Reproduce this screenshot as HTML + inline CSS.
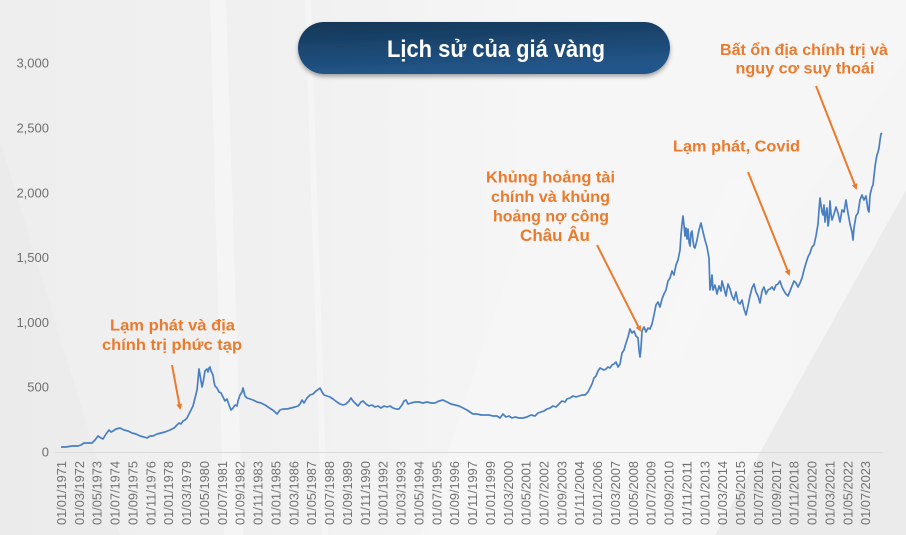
<!DOCTYPE html>
<html><head><meta charset="utf-8"><style>
html,body{margin:0;padding:0;background:#f3f3f3;}
svg{display:block;}
</style></head><body>
<svg width="906" height="535" viewBox="0 0 906 535" xmlns="http://www.w3.org/2000/svg">
<defs>
<linearGradient id="bg" x1="0" y1="0" x2="1" y2="0">
<stop offset="0" stop-color="#eeeeee"/><stop offset="0.35" stop-color="#f1f1f1"/><stop offset="0.6" stop-color="#f6f6f6"/><stop offset="1" stop-color="#f5f5f5"/>
</linearGradient>
<linearGradient id="pill" x1="0" y1="0" x2="0.3" y2="1">
<stop offset="0" stop-color="#143656"/><stop offset="1" stop-color="#22568a"/>
</linearGradient>
<filter id="sh" x="-10%" y="-30%" width="120%" height="170%">
<feDropShadow dx="0" dy="2.5" stdDeviation="2" flood-color="#000" flood-opacity="0.35"/>
</filter>
<marker id="ah" markerWidth="6" markerHeight="6" refX="4" refY="3" orient="auto" markerUnits="userSpaceOnUse">
<path d="M0,0 L6,3 L0,6 Z" fill="#ec7a2c"/>
</marker>
</defs>
<rect width="906" height="535" fill="url(#bg)"/>
<!-- background decorations -->
<polygon points="0,140 0,535 120,535" fill="#e9e9e9" opacity="0.6"/>
<polygon points="210,0 226,0 243,535 224,535" fill="#f9f9f9" opacity="0.55"/>
<polygon points="305,0 311,0 328,535 322,535" fill="#fafafa" opacity="0.45"/>
<polygon points="600,0 906,0 906,60 560,535 420,535" fill="#f7f7f7" opacity="0.6"/>
<polygon points="906,190 906,535 715,535 800,380" fill="#ebebeb"/>
<polygon points="730,180 760,180 680,360 650,360" fill="#f8f8f8" opacity="0.5"/>

<!-- title pill -->
<rect x="298" y="22" width="372" height="52" rx="26" ry="26" fill="url(#pill)" filter="url(#sh)"/>
<text x="387" y="57" font-family="Liberation Sans, Noto Sans CJK SC, sans-serif" font-size="24" font-weight="bold" fill="#ffffff" textLength="218" lengthAdjust="spacingAndGlyphs">Lịch sử của giá vàng</text>

<!-- y axis labels -->
<g font-family="Liberation Sans, sans-serif" font-size="13" fill="#6f6f6f" text-anchor="end">
<text x="49" y="456.5">0</text>
<text x="49" y="391.7">500</text>
<text x="49" y="326.9">1,000</text>
<text x="49" y="262.1">1,500</text>
<text x="49" y="197.3">2,000</text>
<text x="49" y="132.5">2,500</text>
<text x="49" y="67.7">3,000</text>
</g>

<!-- x axis -->
<line x1="55" y1="452.5" x2="883" y2="452.5" stroke="#d9d9d9" stroke-width="1"/>

<g font-family="Liberation Sans, sans-serif" font-size="13" fill="#727272" text-anchor="end">
<text transform="translate(66,461) rotate(-90)" textLength="64" lengthAdjust="spacingAndGlyphs">01/01/1971</text>
<text transform="translate(83.9,461) rotate(-90)" textLength="64" lengthAdjust="spacingAndGlyphs">01/03/1972</text>
<text transform="translate(101.7,461) rotate(-90)" textLength="64" lengthAdjust="spacingAndGlyphs">01/05/1973</text>
<text transform="translate(119.6,461) rotate(-90)" textLength="64" lengthAdjust="spacingAndGlyphs">01/07/1974</text>
<text transform="translate(137.5,461) rotate(-90)" textLength="64" lengthAdjust="spacingAndGlyphs">01/09/1975</text>
<text transform="translate(155.4,461) rotate(-90)" textLength="64" lengthAdjust="spacingAndGlyphs">01/11/1976</text>
<text transform="translate(173.2,461) rotate(-90)" textLength="64" lengthAdjust="spacingAndGlyphs">01/01/1978</text>
<text transform="translate(191.1,461) rotate(-90)" textLength="64" lengthAdjust="spacingAndGlyphs">01/03/1979</text>
<text transform="translate(209,461) rotate(-90)" textLength="64" lengthAdjust="spacingAndGlyphs">01/05/1980</text>
<text transform="translate(226.8,461) rotate(-90)" textLength="64" lengthAdjust="spacingAndGlyphs">01/07/1981</text>
<text transform="translate(244.7,461) rotate(-90)" textLength="64" lengthAdjust="spacingAndGlyphs">01/09/1982</text>
<text transform="translate(262.6,461) rotate(-90)" textLength="64" lengthAdjust="spacingAndGlyphs">01/11/1983</text>
<text transform="translate(280.4,461) rotate(-90)" textLength="64" lengthAdjust="spacingAndGlyphs">01/01/1985</text>
<text transform="translate(298.3,461) rotate(-90)" textLength="64" lengthAdjust="spacingAndGlyphs">01/03/1986</text>
<text transform="translate(316.2,461) rotate(-90)" textLength="64" lengthAdjust="spacingAndGlyphs">01/05/1987</text>
<text transform="translate(334,461) rotate(-90)" textLength="64" lengthAdjust="spacingAndGlyphs">01/07/1988</text>
<text transform="translate(351.9,461) rotate(-90)" textLength="64" lengthAdjust="spacingAndGlyphs">01/09/1989</text>
<text transform="translate(369.8,461) rotate(-90)" textLength="64" lengthAdjust="spacingAndGlyphs">01/11/1990</text>
<text transform="translate(387.7,461) rotate(-90)" textLength="64" lengthAdjust="spacingAndGlyphs">01/01/1992</text>
<text transform="translate(405.5,461) rotate(-90)" textLength="64" lengthAdjust="spacingAndGlyphs">01/03/1993</text>
<text transform="translate(423.4,461) rotate(-90)" textLength="64" lengthAdjust="spacingAndGlyphs">01/05/1994</text>
<text transform="translate(441.3,461) rotate(-90)" textLength="64" lengthAdjust="spacingAndGlyphs">01/07/1995</text>
<text transform="translate(459.1,461) rotate(-90)" textLength="64" lengthAdjust="spacingAndGlyphs">01/09/1996</text>
<text transform="translate(477,461) rotate(-90)" textLength="64" lengthAdjust="spacingAndGlyphs">01/11/1997</text>
<text transform="translate(494.9,461) rotate(-90)" textLength="64" lengthAdjust="spacingAndGlyphs">01/01/1999</text>
<text transform="translate(512.8,461) rotate(-90)" textLength="64" lengthAdjust="spacingAndGlyphs">01/03/2000</text>
<text transform="translate(530.6,461) rotate(-90)" textLength="64" lengthAdjust="spacingAndGlyphs">01/05/2001</text>
<text transform="translate(548.5,461) rotate(-90)" textLength="64" lengthAdjust="spacingAndGlyphs">01/07/2002</text>
<text transform="translate(566.4,461) rotate(-90)" textLength="64" lengthAdjust="spacingAndGlyphs">01/09/2003</text>
<text transform="translate(584.2,461) rotate(-90)" textLength="64" lengthAdjust="spacingAndGlyphs">01/11/2004</text>
<text transform="translate(602.1,461) rotate(-90)" textLength="64" lengthAdjust="spacingAndGlyphs">01/01/2006</text>
<text transform="translate(620,461) rotate(-90)" textLength="64" lengthAdjust="spacingAndGlyphs">01/03/2007</text>
<text transform="translate(637.8,461) rotate(-90)" textLength="64" lengthAdjust="spacingAndGlyphs">01/05/2008</text>
<text transform="translate(655.7,461) rotate(-90)" textLength="64" lengthAdjust="spacingAndGlyphs">01/07/2009</text>
<text transform="translate(673.6,461) rotate(-90)" textLength="64" lengthAdjust="spacingAndGlyphs">01/09/2010</text>
<text transform="translate(691.5,461) rotate(-90)" textLength="64" lengthAdjust="spacingAndGlyphs">01/11/2011</text>
<text transform="translate(709.3,461) rotate(-90)" textLength="64" lengthAdjust="spacingAndGlyphs">01/01/2013</text>
<text transform="translate(727.2,461) rotate(-90)" textLength="64" lengthAdjust="spacingAndGlyphs">01/03/2014</text>
<text transform="translate(745.1,461) rotate(-90)" textLength="64" lengthAdjust="spacingAndGlyphs">01/05/2015</text>
<text transform="translate(762.9,461) rotate(-90)" textLength="64" lengthAdjust="spacingAndGlyphs">01/07/2016</text>
<text transform="translate(780.8,461) rotate(-90)" textLength="64" lengthAdjust="spacingAndGlyphs">01/09/2017</text>
<text transform="translate(798.7,461) rotate(-90)" textLength="64" lengthAdjust="spacingAndGlyphs">01/11/2018</text>
<text transform="translate(816.5,461) rotate(-90)" textLength="64" lengthAdjust="spacingAndGlyphs">01/01/2020</text>
<text transform="translate(834.4,461) rotate(-90)" textLength="64" lengthAdjust="spacingAndGlyphs">01/03/2021</text>
<text transform="translate(852.3,461) rotate(-90)" textLength="64" lengthAdjust="spacingAndGlyphs">01/05/2022</text>
<text transform="translate(870.2,461) rotate(-90)" textLength="64" lengthAdjust="spacingAndGlyphs">01/07/2023</text>
</g>

<!-- gold price line -->
<polyline fill="none" stroke="#4a7fc3" stroke-width="1.7" stroke-linejoin="round" points="61,447 66,447 72,446 78,446 81,445 84,443 88,443 92,443 95,440 98,436 101,438 103,439 106,434 109,430 111,432 113,431 116,429 120,428 124,430 128,431 132,433 136,434 140,436 144,437 147,438 150,436 153,436 157,434 161,433 165,432 170,430 174,428 177,425 179,423 181,424 183,421 185,420 187,418 189,414 191,410 193,406 195,398 197,390 198,380 199,369 200,375 202,387 203,383 205,371 207,369 208,372 209,368 210,367 211,371 213,375 214,382 215,386 217,388 219,392 221,393 223,397 225,401 227,399 229,405 231,410 233,408 235,405 237,406 238,401 240,395 242,392 243,388 244,392 245,396 247,398 250,399 253,400 257,402 261,403 265,405 268,407 271,409 274,411 277,414 280,410 283,409 287,409 291,408 295,407 298,406 300,404 302,400 304,403 307,398 310,395 313,394 316,391 319,389 320,388 322,392 324,395 327,396 330,397 333,399 337,402 340,404 343,405 346,404 349,401 351,398 353,401 356,404 358,406 361,402 363,401 366,404 369,406 372,405 375,407 378,406 381,408 384,406 387,407 390,406 393,408 396,409 399,409 402,405 404,401 406,400 408,404 411,403 415,402 419,402 423,403 427,402 431,403 435,403 439,401 443,400 447,402 451,404 455,405 459,406 463,408 467,410 470,412 473,414 477,414 481,415 485,415 489,415 493,416 497,416 500,418 503,414 506,417 509,416 512,418 515,417 519,418 523,418 527,417 531,415 535,416 538,413 541,412 544,411 547,409 550,408 553,406 556,407 559,404 562,401 565,402 567,399 570,398 573,396 576,397 579,396 582,395 585,395 588,392 590,388 592,384 594,378 596,376 598,371 600,368 602,369 604,370 606,369 608,367 610,368 612,365 614,364 616,362 618,367 620,364 622,353 624,350 626,343 628,337 630,329 632,333 634,331 636,336 638,338 639,350 640,357 641,348 642,331 644,327 646,332 648,328 650,329 652,324 654,315 656,305 658,302 660,307 662,299 664,294 666,290 668,281 670,278 672,271 674,275 676,265 678,260 680,250 681,235 682,224 683,216 684,225 685,236 686,228 687,239 688,229 689,242 690,246 691,233 692,231 693,241 694,247 695,248 697,240 699,230 701,223 703,232 705,240 707,247 709,258 710,290 711,285 712,275 713,290 715,285 717,294 719,286 721,291 722,281 724,288 726,296 728,284 730,289 732,296 734,300 736,292 738,302 740,304 742,300 744,309 746,315 748,306 750,296 752,288 754,284 756,292 758,296 760,303 762,291 764,287 766,294 768,290 770,289 772,287 774,290 776,285 778,284 780,281 782,287 784,291 786,294 788,296 790,291 792,286 794,281 796,283 798,287 800,283 802,278 804,270 806,263 808,257 810,253 812,247 814,245 816,236 818,224 819,210 820,198 821,205 822,212 823,215 824,205 825,222 826,213 827,208 828,226 829,220 830,201 831,214 832,220 834,214 836,207 838,213 840,222 842,210 844,212 846,200 848,213 850,224 852,232 853,240 854,228 856,216 858,213 860,200 862,195 864,200 866,196 868,210 869,212 870,195 872,187 873,185 874,176 875,167 876,160 877,155 878,152 879,148 880,140 881,134 882,133"/>

<!-- annotations -->
<g font-family="Liberation Sans, Noto Sans CJK SC, sans-serif" font-size="16" font-weight="bold" fill="#ec7a2c" text-anchor="middle">
<text x="804" y="55" textLength="168" lengthAdjust="spacingAndGlyphs">Bất ổn địa chính trị và</text>
<text x="805" y="73.5" textLength="139" lengthAdjust="spacingAndGlyphs">nguy cơ suy thoái</text>
<text x="736.5" y="151.5" textLength="127" lengthAdjust="spacingAndGlyphs">Lạm phát, Covid</text>
<text x="550.5" y="182.5" textLength="129" lengthAdjust="spacingAndGlyphs">Khủng hoảng tài</text>
<text x="550.5" y="202" textLength="119" lengthAdjust="spacingAndGlyphs">chính và khủng</text>
<text x="551" y="221.5" textLength="116" lengthAdjust="spacingAndGlyphs">hoảng nợ công</text>
<text x="555" y="241" font-size="17">Châu Âu</text>
<text x="172.5" y="330.5" textLength="125" lengthAdjust="spacingAndGlyphs">Lạm phát và địa</text>
<text x="172" y="350" textLength="140" lengthAdjust="spacingAndGlyphs">chính trị phức tạp</text>
</g>

<g stroke="#ec7a2c" stroke-width="2" fill="none">
<line x1="172" y1="365" x2="180" y2="408" marker-end="url(#ah)"/>
<line x1="597" y1="245" x2="640" y2="330" marker-end="url(#ah)"/>
<line x1="748" y1="172" x2="789" y2="274" marker-end="url(#ah)"/>
<line x1="816" y1="86" x2="856" y2="188" marker-end="url(#ah)"/>
</g>
</svg>
</body></html>
